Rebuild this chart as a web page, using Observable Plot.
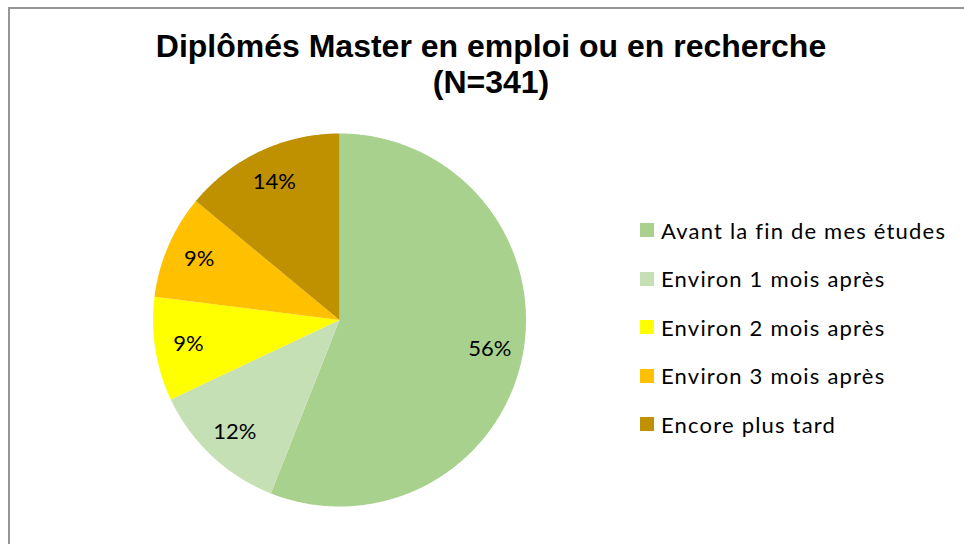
<!DOCTYPE html>
<html>
<head>
<meta charset="utf-8">
<script src="https://cdn.jsdelivr.net/npm/d3@7"></script>
<script src="https://cdn.jsdelivr.net/npm/@observablehq/plot@0.6"></script>
<style>
  html, body { margin: 0; padding: 0; background: #fff; }
  #wrap { position: relative; width: 964px; height: 544px; overflow: hidden; background: #fff; }
  #frame { position: absolute; left: 8px; top: 7px; width: 2000px; height: 2000px;
           border-left: 2px solid #969696; border-top: 2px solid #969696; box-sizing: border-box; }
  #title { position: absolute; left: 0; top: 28px; width: 982px; text-align: center;
           font-family: "Liberation Sans", Arial, sans-serif; font-weight: bold; font-size: 32px;
           line-height: 36px; color: #000; }
  #chart { position: absolute; left: 0; top: 110px; }
  #legend { position: absolute; left: 640px; top: 206px; font-family: Lato, "Open Sans", sans-serif;
            font-size: 22px; letter-spacing: 1.2px; color: #000; }
  .item { height: 48.5px; display: flex; align-items: center; }
  .sw { width: 14px; height: 14px; margin-right: 7px; flex: none; }
</style>
</head>
<body>
<div id="wrap">
  <div id="frame"></div>
  <div id="title"></div>
  <div id="chart"></div>
  <div id="legend"></div>
</div>
<script>
const titleLines = ["Diplômés Master en emploi ou en recherche", "(N=341)"];
const categories = ["Avant la fin de mes études", "Environ 1 mois après", "Environ 2 mois après", "Environ 3 mois après", "Encore plus tard"];
const values = [56, 12, 9, 9, 14];
const labels = ["56%", "12%", "9%", "9%", "14%"];
const colors = ["#A9D18E", "#C5E0B4", "#FFFF00", "#FFC000", "#BF9000"];

document.getElementById("title").innerHTML = titleLines.join("<br>");

// Build slices (unit circle, screen y-down, clockwise from 12 o'clock)
const arcs = d3.pie().sort(null).value(d => d)(values);
const pt = (a, r) => [r * Math.sin(a), -r * Math.cos(a)];
const features = arcs.map((a, i) => {
  const n = Math.max(4, Math.ceil((a.endAngle - a.startAngle) / (Math.PI / 360)));
  const ring = [[0, 0]];
  for (let k = 0; k <= n; k++) ring.push(pt(a.startAngle + (a.endAngle - a.startAngle) * k / n, 1));
  ring.push([0, 0]);
  return {type: "Feature", properties: {category: categories[i]}, geometry: {type: "Polygon", coordinates: [ring]}};
});
const circle = {type: "Polygon", coordinates: [d3.range(0, 361, 2).map(d => pt(d * Math.PI / 180, 1))]};
const labelData = arcs.map((a, i) => {
  const m = (a.startAngle + a.endAngle) / 2;
  const [x, y] = pt(m, 0.82);
  return {x, y, label: labels[i]};
});

const chart = Plot.plot({
  width: 964,
  height: 434,
  marginLeft: 152.5,
  marginRight: 438.5,
  marginTop: 23,
  marginBottom: 38,
  projection: {type: "identity", domain: circle},
  color: {domain: categories, range: colors},
  style: {background: "transparent"},
  marks: [
    Plot.geo(features, {fill: d => d.properties.category, stroke: "none"}),
    Plot.text(labelData, {x: "x", y: "y", text: "label", fontSize: 22, fill: "#000",
      fontFamily: "Lato, 'Open Sans', sans-serif", style: "letter-spacing: 1.2px"})
  ]
});
document.getElementById("chart").appendChild(chart);

const legend = document.getElementById("legend");
categories.forEach((c, i) => {
  const row = document.createElement("div");
  row.className = "item";
  row.innerHTML = `<span class="sw" style="background:${colors[i]}"></span><span>${c}</span>`;
  legend.appendChild(row);
});
</script>
</body>
</html>
